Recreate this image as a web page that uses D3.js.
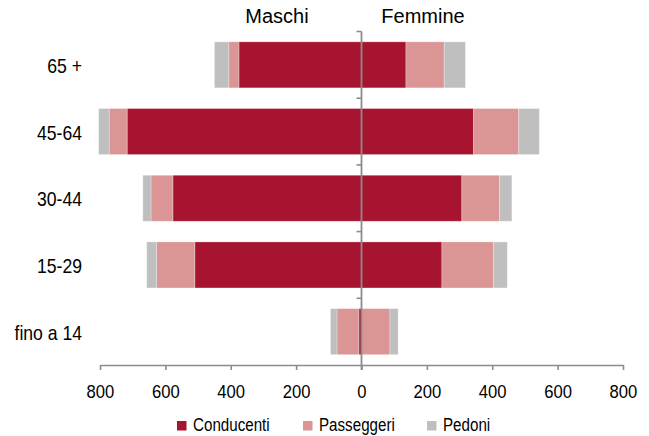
<!DOCTYPE html>
<html>
<head>
<meta charset="utf-8">
<script src="https://cdn.jsdelivr.net/npm/d3@7"></script>
<style>
  html, body { margin: 0; padding: 0; background: #fff; }
  svg { display: block; }
  text { font-family: "Liberation Sans", Arial, sans-serif; fill: #000; }
</style>
</head>
<body>
<svg id="chart" width="649" height="436"></svg>
<script>
// Age groups, top to bottom
const categories = ["65 +", "45-64", "30-44", "15-29", "fino a 14"];

// Maschi (drawn to the left)
const maschiConducenti = [375, 717, 577, 510, 8];
const maschiPasseggeri = [31, 55, 67, 117, 67];
const maschiPedoni     = [44, 32, 25, 30, 20];

// Femmine (drawn to the right)
const femmineConducenti = [136, 343, 307, 246, 1];
const femminePasseggeri = [117, 138, 115, 158, 86];
const femminePedoni     = [65, 63, 38, 42, 25];

const seriesNames = ["Conducenti", "Passeggeri", "Pedoni"];
const tickValues = [-800, -600, -400, -200, 0, 200, 400, 600, 800];
const colors = { Conducenti: "#a6142f", Passeggeri: "#da9594", Pedoni: "#bfbfbf" };

const svg = d3.select("#chart");

const x = d3.scaleLinear().domain([-800, 800]).range([100, 623]);
const y = d3.scaleBand().domain(categories).range([31.5, 365]).paddingInner(0.31).paddingOuter(0.155);

// Build stacked segments: each side accumulates outward from zero
const maschi = [maschiConducenti, maschiPasseggeri, maschiPedoni];
const femmine = [femmineConducenti, femminePasseggeri, femminePedoni];
const segments = [];
categories.forEach((cat, i) => {
  let accM = 0, accF = 0;
  seriesNames.forEach((name, s) => {
    const vm = maschi[s][i];
    segments.push({ cat, name, x0: -(accM + vm), x1: -accM });
    accM += vm;
    const vf = femmine[s][i];
    segments.push({ cat, name, x0: accF, x1: accF + vf });
    accF += vf;
  });
});

svg.append("g").selectAll("rect")
  .data(segments)
  .join("rect")
  .attr("x", d => x(d.x0))
  .attr("width", d => x(d.x1) - x(d.x0))
  .attr("y", d => y(d.cat))
  .attr("height", y.bandwidth())
  .attr("fill", d => colors[d.name])
  .attr("stroke", "rgba(255,255,255,0.35)")
  .attr("stroke-width", 0.8);

// Horizontal value axis
const xAxis = svg.append("g")
  .attr("transform", "translate(0,365)")
  .call(d3.axisBottom(x).tickValues(tickValues).tickSize(5).tickSizeOuter(0).tickPadding(15)
    .tickFormat(d => Math.abs(d)));
xAxis.select(".domain").attr("stroke", "#8c8c8c").attr("stroke-width", 1.6);
xAxis.selectAll(".tick line").attr("stroke", "#8c8c8c").attr("stroke-width", 1.6);
xAxis.selectAll(".tick text")
  .attr("font-size", 18.5)
  .attr("font-family", null)
  .attr("transform", "scale(0.9,1)");

// Central category axis with ticks between groups
const half = y.step() * y.paddingInner() / 2;
const boundaries = categories.map(c => y(c) - half);
const zeroX = x(0);
const yAxis = svg.append("g");
yAxis.append("line")
  .attr("x1", zeroX).attr("x2", zeroX)
  .attr("y1", boundaries[0]).attr("y2", 370)
  .attr("stroke", "#8c8c8c").attr("stroke-width", 1.8);
yAxis.selectAll("line.tick")
  .data(boundaries)
  .join("line")
  .attr("class", "tick")
  .attr("x1", zeroX - 5).attr("x2", zeroX)
  .attr("y1", d => d).attr("y2", d => d)
  .attr("stroke", "#8c8c8c").attr("stroke-width", 1.6);

// Category labels
svg.append("g").selectAll("text")
  .data(categories)
  .join("text")
  .attr("transform", d => `translate(82,${y(d) + y.bandwidth() / 2}) scale(0.88,1)`)
  .attr("dy", "0.4em")
  .attr("text-anchor", "end")
  .attr("font-size", 20)
  .text(d => d);

// Side titles
svg.append("text").attr("x", 277).attr("y", 23).attr("text-anchor", "middle").attr("font-size", 20).text("Maschi");
svg.append("text").attr("x", 423).attr("y", 23).attr("text-anchor", "middle").attr("font-size", 20).text("Femmine");

// Legend
const legendX = [177, 303, 427];
const legend = svg.append("g").selectAll("g")
  .data(seriesNames)
  .join("g")
  .attr("transform", (d, i) => `translate(${legendX[i]},421)`);
legend.append("rect").attr("width", 9.5).attr("height", 9.5).attr("fill", d => colors[d]);
legend.append("text")
  .attr("transform", "translate(16,10) scale(0.82,1)")
  .attr("font-size", 18.5)
  .text(d => d);
</script>
</body>
</html>
